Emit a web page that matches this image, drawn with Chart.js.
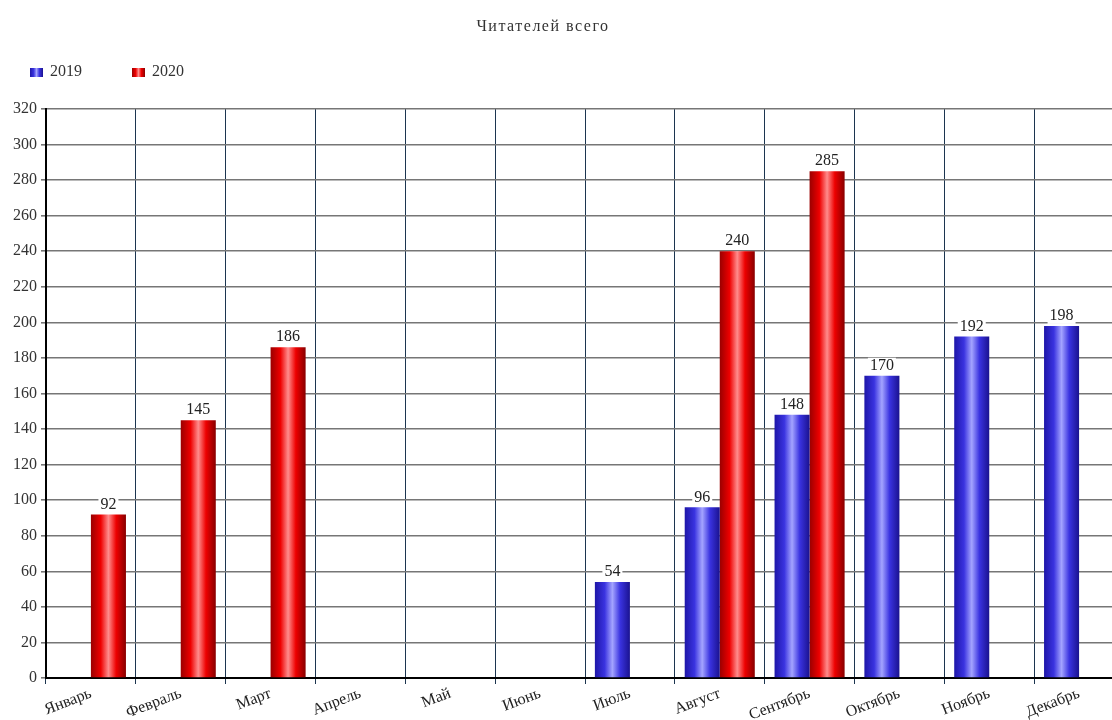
<!DOCTYPE html>
<html>
<head>
<meta charset="utf-8">
<script src="https://cdn.jsdelivr.net/npm/chart.js@4.4.1/dist/chart.umd.min.js"></script>
<style>
    html, body { margin: 0; padding: 0; background: #fff; overflow: hidden; }
    #wrap { position: absolute; left: 0; top: 0; width: 1126px; height: 720px; }
</style>
</head>
<body>
<div id="wrap"><canvas id="barChart"></canvas></div>
<script>

/// DATA ///

const chartTitle = 'Читателей всего';
const months = ['Январь', 'Февраль', 'Март', 'Апрель', 'Май', 'Июнь', 'Июль', 'Август', 'Сентябрь', 'Октябрь', 'Ноябрь', 'Декабрь'];
const seriesNames = ['2019', '2020'];
const readers2019 = [null, null, null, null, null, null, 54, 96, 148, 170, 192, 198];
const readers2020 = [92, 145, 186, null, null, null, null, 240, 285, null, null, null];
const yMin = 0;
const yMax = 320;
const yStep = 20;


/// STYLE ///

const serif = '"Liberation Serif", "Times New Roman", serif';
const catPct = 0.78;

// cylinder-like shading: dark edges, light middle
const blueStops = ['#1e16a8', '#3a33e0', '#a4a4ff', '#3a33e0', '#1a1290'];
const redStops = ['#9a0000', '#ee0000', '#ff8c8c', '#ee0000', '#880000'];

function makeGradient(ctx, x0, x1, stops) {
    const g = ctx.createLinearGradient(x0, 0, x1, 0);
    g.addColorStop(0, stops[0]);
    g.addColorStop(0.28, stops[1]);
    g.addColorStop(0.5, stops[2]);
    g.addColorStop(0.72, stops[3]);
    g.addColorStop(1, stops[4]);
    return g;
}

// work out the bar's left/right from the category scale
function barFill(stops) {
    return function(context) {
        const chart = context.chart;
        const xs = chart.scales.x;
        if (!xs || context.type !== 'data' || !xs.width) return stops[1];
        const catW = xs.width / months.length;
        const barW = catW * catPct / seriesNames.length;
        const left = xs.getPixelForValue(context.dataIndex) - catW * catPct / 2 + context.datasetIndex * barW;
        return makeGradient(chart.ctx, left, left + barW, stops);
    };
}


/// PLUGINS ///

// numbers above the bars, on a white patch
const valueLabels = {
    id: 'valueLabels',
    afterDatasetsDraw(chart) {
        const ctx = chart.ctx;
        ctx.save();
        ctx.font = '16px ' + serif;
        ctx.textAlign = 'center';
        ctx.textBaseline = 'bottom';
        chart.data.datasets.forEach((ds, di) => {
            const meta = chart.getDatasetMeta(di);
            meta.data.forEach((bar, i) => {
                const v = ds.data[i];
                if (v === null || v === undefined) return;
                const txt = String(v);
                const w = ctx.measureText(txt).width;
                ctx.fillStyle = '#fff';
                ctx.fillRect(bar.x - w / 2 - 2, bar.y - 18, w + 4, 16);
                ctx.fillStyle = '#222';
                ctx.fillText(txt, bar.x, bar.y - 2);
            });
        });
        ctx.restore();
    }
};

// title and legend in the top-left, like the original
const header = {
    id: 'header',
    afterDraw(chart) {
        const ctx = chart.ctx;
        ctx.save();
        ctx.fillStyle = '#333';
        ctx.font = '16px ' + serif;
        ctx.letterSpacing = '1.5px';
        ctx.textAlign = 'center';
        ctx.textBaseline = 'middle';
        ctx.fillText(chartTitle, 543, 27);
        ctx.letterSpacing = '0px';

        const stops = [blueStops, redStops];
        ctx.textAlign = 'left';
        chart.data.datasets.forEach((ds, i) => {
            const x = 30 + i * 102;
            ctx.fillStyle = makeGradient(ctx, x, x + 13, stops[i]);
            ctx.fillRect(x, 68, 13, 9);
            ctx.fillStyle = '#333';
            ctx.fillText(ds.label, x + 20, 72);
        });
        ctx.restore();
    }
};


/// CHART ///

const ctx = document.getElementById('barChart').getContext('2d');

const config = {
    type: 'bar',
    plugins: [valueLabels, header],
    data: {
        labels: months,
        datasets: [{
            label: seriesNames[0],
            data: readers2019,
            backgroundColor: barFill(blueStops),
            borderWidth: 0,
            categoryPercentage: catPct,
            barPercentage: 1
        }, {
            label: seriesNames[1],
            data: readers2020,
            backgroundColor: barFill(redStops),
            borderWidth: 0,
            categoryPercentage: catPct,
            barPercentage: 1
        }]
    },
    options: {
        responsive: true,
        maintainAspectRatio: false,
        animation: false,
        layout: {
            padding: { top: 109, right: 2, left: 0, bottom: 0 }
        },
        scales: {
            x: {
                afterFit: (scale) => { scale.height = 42; },
                ticks: {
                    color: '#222',
                    font: { family: serif, size: 16 },
                    maxRotation: 21,
                    minRotation: 21,
                    autoSkip: false,
                    padding: 0
                },
                grid: {
                    offset: true,
                    color: '#1c3550',
                    lineWidth: 1,
                    tickLength: 6
                },
                border: {
                    color: '#000',
                    width: 2
                }
            },
            y: {
                min: yMin,
                max: yMax,
                afterFit: (scale) => { scale.width = 46; },
                ticks: {
                    stepSize: yStep,
                    color: '#333',
                    font: { family: serif, size: 16 },
                    padding: 4
                },
                grid: {
                    color: '#767676',
                    lineWidth: 1.6,
                    tickLength: 5
                },
                border: {
                    color: '#000',
                    width: 2
                }
            }
        },
        plugins: {
            legend: { display: false },
            title: { display: false },
            tooltip: { enabled: false }
        }
    }
};

const myChart = new Chart(ctx, config);
</script>
</body>
</html>
